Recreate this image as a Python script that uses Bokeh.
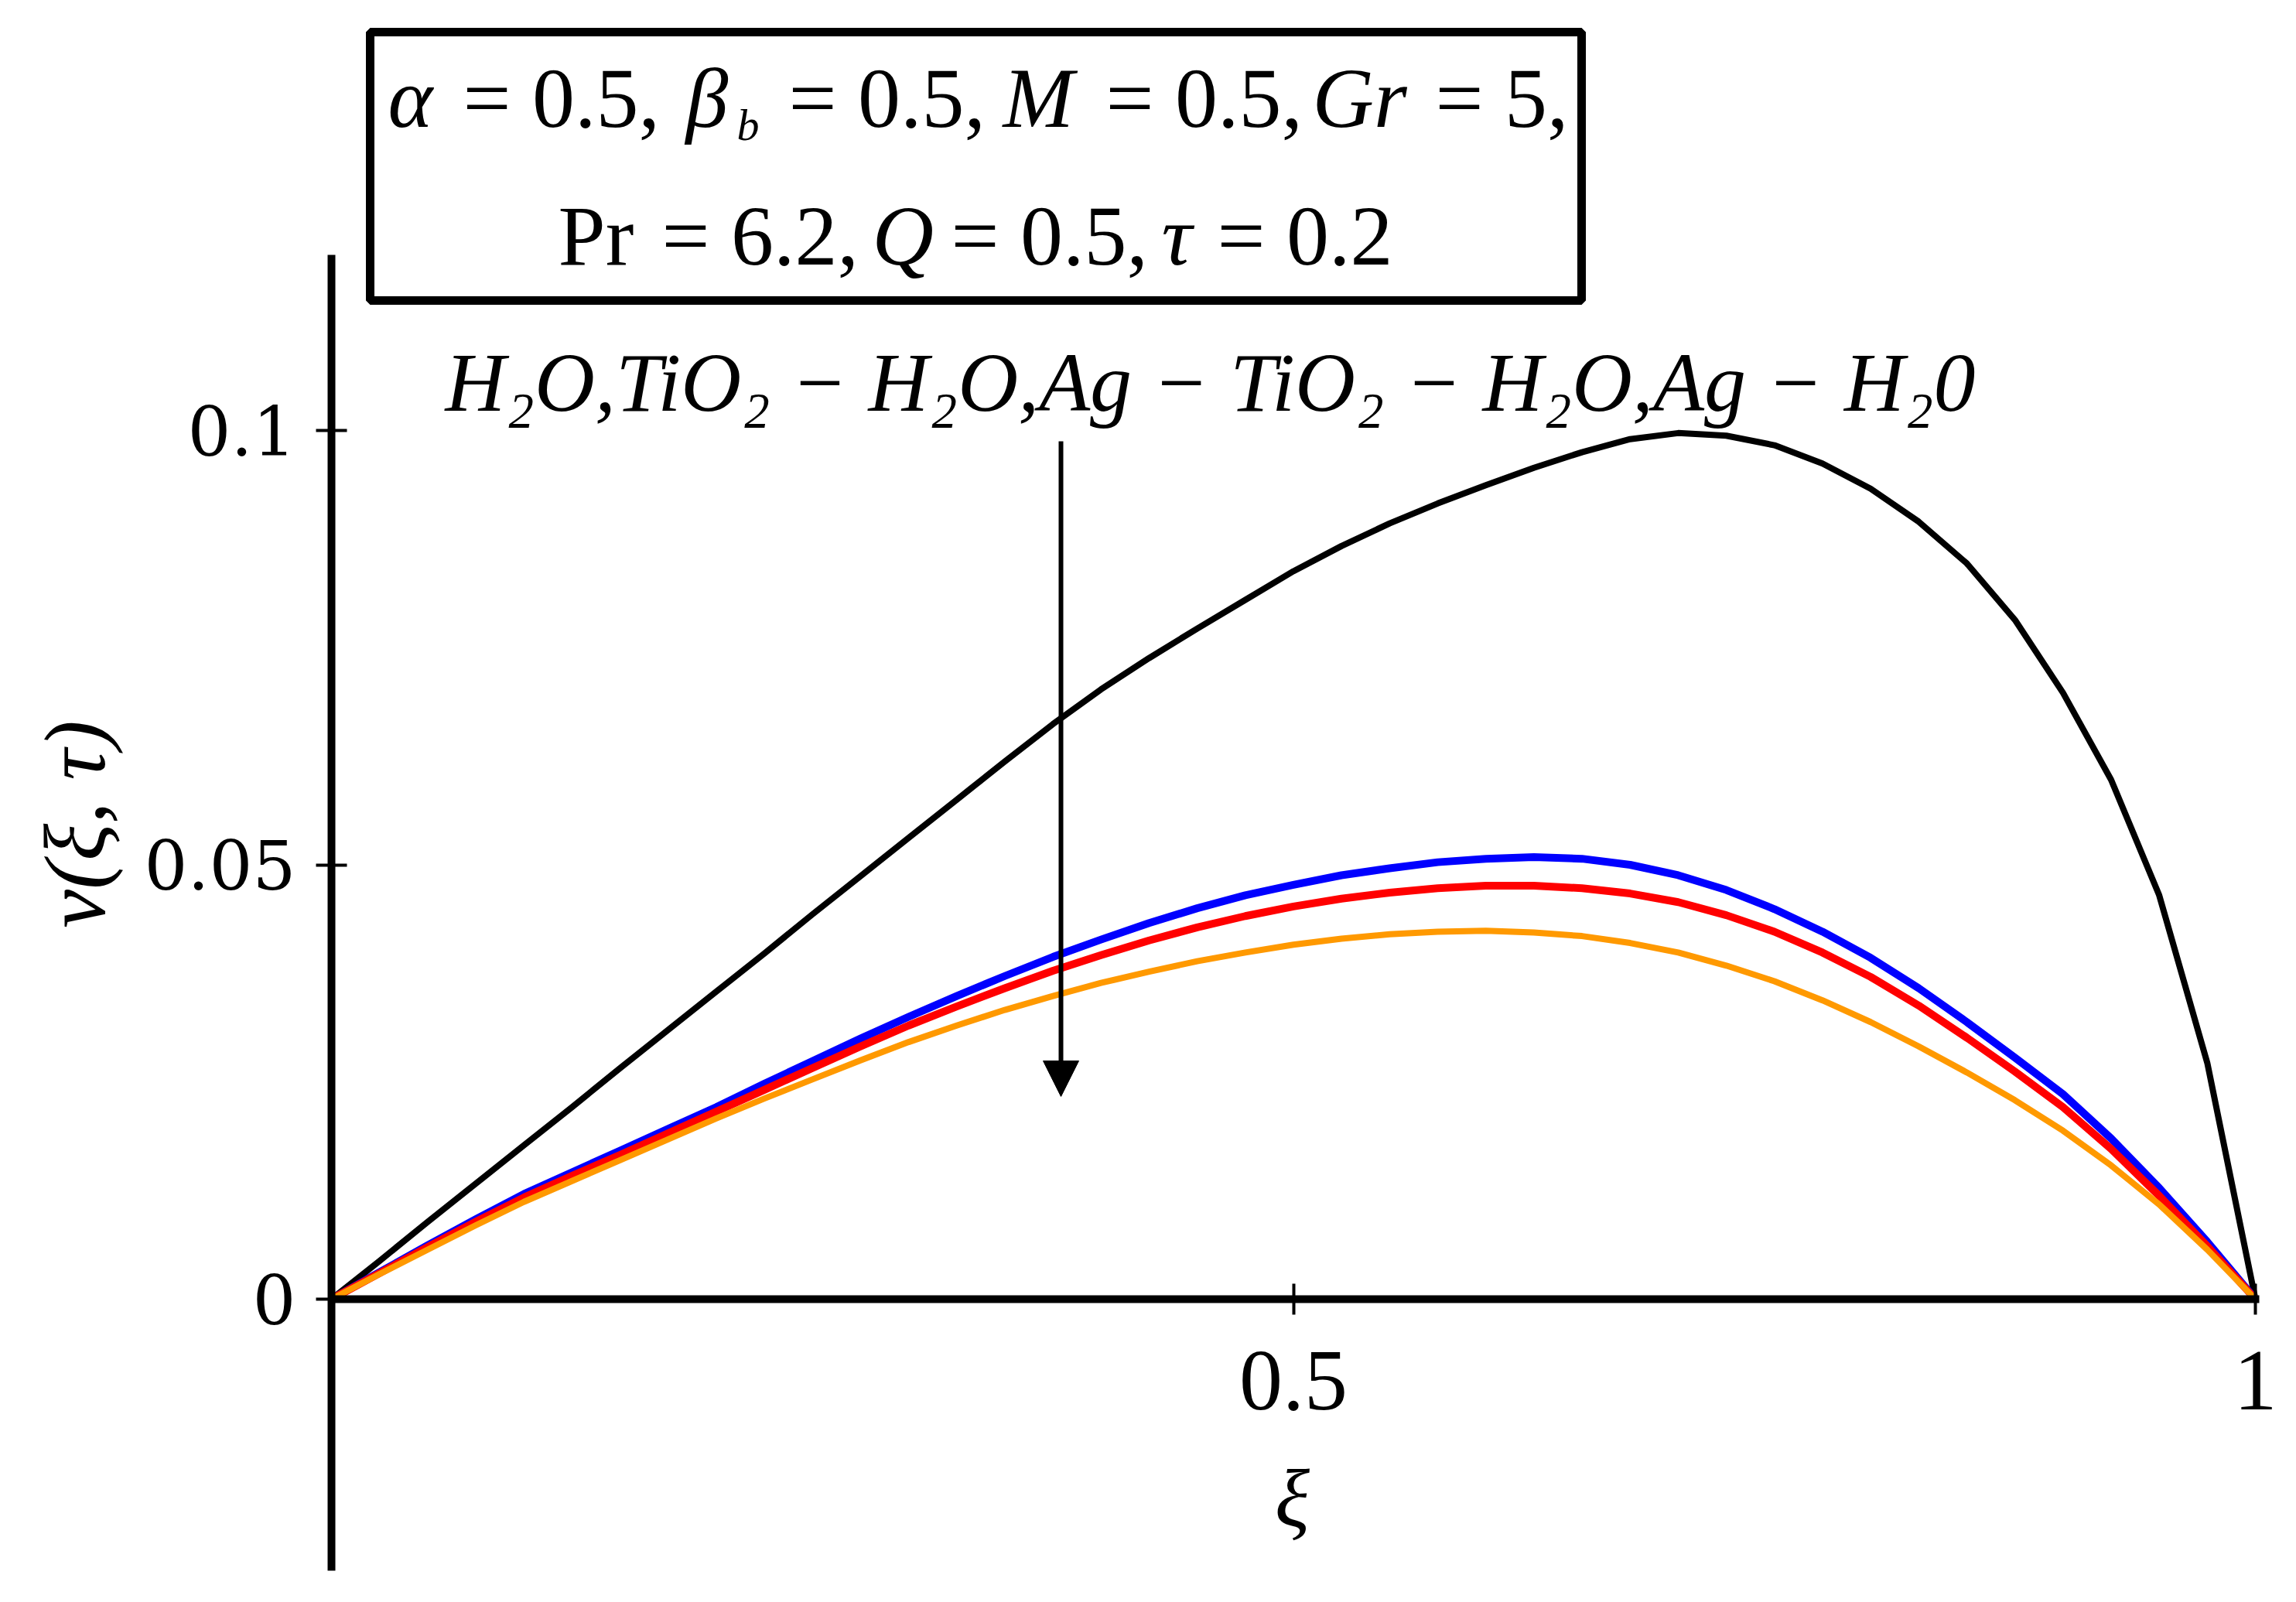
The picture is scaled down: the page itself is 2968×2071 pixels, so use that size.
import numpy as np
from bokeh.plotting import figure
from bokeh.models import (LinearAxis, FixedTicker, Range1d, Label, Arrow,
                          NormalHead, BoxAnnotation)
from bokeh.embed import file_html
from bokeh.resources import INLINE

# ---------------- data ----------------
xi = [0.0, 0.025, 0.05, 0.075, 0.1, 0.125, 0.15, 0.175, 0.2, 0.225,
      0.25, 0.275, 0.3, 0.325, 0.35, 0.375, 0.4, 0.425, 0.45, 0.475,
      0.5, 0.525, 0.55, 0.575, 0.6, 0.625, 0.65, 0.675, 0.7, 0.725,
      0.75, 0.775, 0.8, 0.825, 0.85, 0.875, 0.9, 0.925, 0.95, 0.975, 1.0]

# H2O (black)
v_h2o = [0.0, 0.0044, 0.0089, 0.0133, 0.0177, 0.0221, 0.0266, 0.0310, 0.0354,
         0.0398, 0.0443, 0.0487, 0.0531, 0.0575, 0.0619, 0.0662, 0.0702,
         0.0738, 0.0772, 0.0805, 0.0838, 0.0867, 0.0893, 0.0916, 0.0937,
         0.0957, 0.0975, 0.0990, 0.0997, 0.0994, 0.0983, 0.0962, 0.0933,
         0.0895, 0.0847, 0.0782, 0.0698, 0.0598, 0.0465, 0.0272, 0.0]
# TiO2 - H2O (blue)
v_tio2_h2o = [0.0, 0.0031, 0.0062, 0.0092, 0.0121, 0.0146, 0.0171, 0.0196,
              0.0221, 0.0248, 0.0274, 0.0300, 0.0325, 0.0349, 0.0372, 0.0394,
              0.0414, 0.0433, 0.0450, 0.0465, 0.0477, 0.0488, 0.0496, 0.0503,
              0.0507, 0.0509, 0.0507, 0.0500, 0.0488, 0.0471, 0.0449, 0.0423,
              0.0393, 0.0358, 0.0319, 0.0278, 0.0236, 0.0185, 0.0128, 0.0066,
              0.0]
# Ag - TiO2 - H2O (red)
v_ag_tio2_h2o = [0.0, 0.0030, 0.0060, 0.0089, 0.0117, 0.0142, 0.0166, 0.0191,
                 0.0216, 0.0241, 0.0266, 0.0291, 0.0315, 0.0337, 0.0358,
                 0.0378, 0.0396, 0.0413, 0.0428, 0.0441, 0.0452, 0.0461,
                 0.0468, 0.0473, 0.0476, 0.0476, 0.0473, 0.0467, 0.0457,
                 0.0442, 0.0423, 0.0399, 0.0371, 0.0338, 0.0301, 0.0262,
                 0.0221, 0.0173, 0.0119, 0.0061, 0.0]
# Ag - H2O (orange)
v_ag_h2o = [0.0, 0.0029, 0.0057, 0.0085, 0.0112, 0.0136, 0.0160, 0.0184,
            0.0208, 0.0231, 0.0253, 0.0275, 0.0296, 0.0315, 0.0333, 0.0349,
            0.0364, 0.0377, 0.0389, 0.0399, 0.0408, 0.0415, 0.0420, 0.0423,
            0.0424, 0.0422, 0.0418, 0.0410, 0.0399, 0.0384, 0.0366, 0.0344,
            0.0319, 0.0291, 0.0261, 0.0229, 0.0194, 0.0154, 0.0109, 0.0057,
            0.0]

x_ticks = [0.5, 1.0]
y_ticks = [0.0, 0.05, 0.1]
x_tick_labels = {0.5: "0.5", 1.0: "1"}
y_tick_labels = {0.0: "0", 0.05: "0.05", 0.1: "0.1"}

# ---------------- layout helpers (page pixels -> data) ----------------
W, H = 2950, 2052
OFF = 0                           # page offset of the canvas
PX_X0, PX_X1 = 428.0, 2915.0      # xi = 0, xi = 1
PX_Y0, PX_Y1 = 1679.0, 556.0      # v = 0, v = 0.1
TXT = 31                          # baseline correction for alphabetic labels


def fx(px):
    return (px - PX_X0) / (PX_X1 - PX_X0)


def fy(py):
    return (PX_Y0 - py) / (PX_Y0 - PX_Y1) * 0.1


SERIF = "Liberation Serif"

p = figure(width=W, height=H, output_backend="svg", toolbar_location=None,
           x_axis_type=None, y_axis_type=None,
           x_range=Range1d(fx(OFF), fx(OFF + W)),
           y_range=Range1d(fy(OFF + H), fy(OFF)),
           min_border=0, min_border_left=0, min_border_right=0,
           min_border_top=0, min_border_bottom=0)
p.outline_line_color = None
p.background_fill_color = "white"
p.border_fill_color = "white"

# ---------------- axes ----------------
xaxis = LinearAxis(fixed_location=0, bounds=(0, fx(2920)),
                   ticker=FixedTicker(ticks=x_ticks),
                   major_label_overrides=x_tick_labels)
xaxis.axis_line_width = 10
xaxis.axis_line_color = "black"
xaxis.major_tick_in = 20
xaxis.major_tick_out = 20
xaxis.major_tick_line_width = 4
xaxis.minor_tick_line_color = None
xaxis.major_label_text_font = SERIF
xaxis.major_label_text_font_size = "112px"
xaxis.major_label_text_color = "black"
xaxis.major_label_standoff = 48
p.add_layout(xaxis, "below")

yaxis = LinearAxis(fixed_location=0, bounds=(fy(2030), fy(329)),
                   ticker=FixedTicker(ticks=y_ticks),
                   major_label_overrides=y_tick_labels)
yaxis.axis_line_width = 10
yaxis.axis_line_color = "black"
yaxis.major_tick_in = 20
yaxis.major_tick_out = 20
yaxis.major_tick_line_width = 4
yaxis.minor_tick_line_color = None
yaxis.major_label_text_font = "DejaVu Serif"
yaxis.major_label_text_font_size = "88px"
yaxis.major_label_text_color = "black"
yaxis.major_label_standoff = 26
p.add_layout(yaxis, "left")

# ---------------- curves ----------------
p.line(xi, v_h2o, line_color="black", line_width=8, line_join="round")
p.line(xi, v_tio2_h2o, line_color="#0000FF", line_width=10, line_join="round")
p.line(xi, v_ag_tio2_h2o, line_color="#FF0000", line_width=10, line_join="round")
p.line(xi, v_ag_h2o, line_color="#FF9900", line_width=8, line_join="round")

# ---------------- annotations ----------------
p.add_layout(Arrow(end=NormalHead(size=46, fill_color="black", line_color="black"),
                   x_start=fx(1371), y_start=fy(570), x_end=fx(1371), y_end=fy(1417),
                   line_width=6, line_color="black"))

p.add_layout(BoxAnnotation(left=fx(478), right=fx(2044), top=fy(41), bottom=fy(388),
                           fill_alpha=0, fill_color=None, line_color="black",
                           line_alpha=1.0, line_width=11))


def lab(text, px, py, size="110px", style="normal", align="left",
        baseline="alphabetic", angle=0.0, font=SERIF):
    if baseline == "alphabetic":
        py = py - TXT
    p.add_layout(Label(x=fx(px), y=fy(py), text=text, text_font=font,
                       text_font_size=size, text_font_style=style,
                       text_align=align, text_baseline=baseline,
                       text_color="black", angle=angle))


# parameter box, line 1
B1 = 157
lab("α", 501, B1, style="italic")
lab("= 0.5,", 598, B1)
lab("β", 886, B1, style="italic")
lab("b", 952, 192, size="58px", style="italic")
lab("= 0.5,", 1019, B1)
lab("M", 1296, B1, style="italic")
lab("= 0.5,", 1429, B1)
lab("Gr", 1696, B1, style="italic")
lab("= 5,", 1855, B1)
# parameter box, line 2
B2 = 335
lab("Pr", 721, B2)
lab("= 6.2,", 855, B2)
lab("Q", 1127, B2, style="italic")
lab("= 0.5,", 1229, B2)
lab("τ", 1501, B2, style="italic")
lab("= 0.2", 1573, B2)

# fluid label
lab("H₂O,TiO₂ − H₂O,Ag − TiO₂ − H₂O,Ag − H₂0", 1564, 525, size="108px",
    style="italic", align="center")

# axis titles
lab("ξ", 1670, 1937, size="105px", style="italic", align="center", baseline="middle")
lab("v(ξ, τ)", 96, 1065, size="112px", style="italic", align="center",
    baseline="middle", angle=np.pi / 2)

open("out.html", "w").write(file_html(p, INLINE))
